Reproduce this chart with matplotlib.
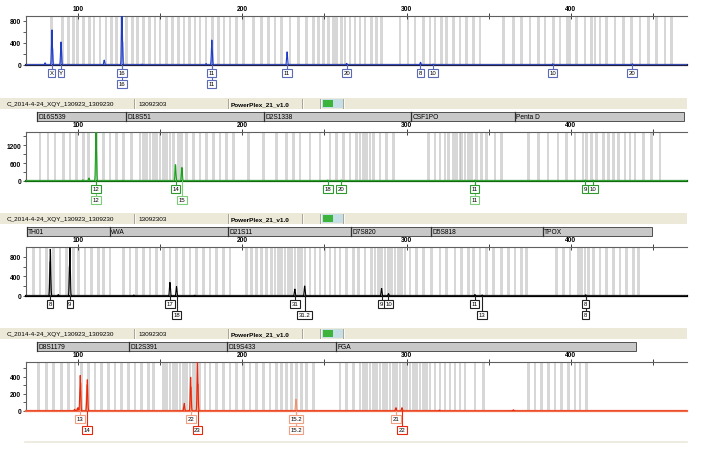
import numpy as np
import matplotlib
matplotlib.use('Agg')
import matplotlib.pyplot as plt
from matplotlib.patches import Rectangle

plt.rcParams['font.family'] = ['Liberation Sans', 'DejaVu Sans']

W, H = 703, 452

# shared size axis (bp)
x_lo, x_hi = 68.4, 470.7
size_major = [100, 200, 300, 400]
size_minor = [150, 250, 350, 450]

# ---------------- blue dye ----------------
blue_pos = [80.0, 84.2, 89.7, 116.0, 126.8, 139.0, 178.0, 181.5, 227.3, 263.5, 308.5, 316.2, 388.9, 437.4]
blue_hgt = [40, 640, 420, 90, 1000, 15, 25, 455, 240, 30, 50, 15, 20, 20]
blue_sh_pos = [84.6, 90.0, 127.2, 181.8]
blue_sh_hgt = [300, 290, 420, 290]
blue_row1 = [(84.2, 'X'), (89.7, 'Y'), (126.8, '16'), (181.5, '11'), (227.3, '11'),
             (263.5, '20'), (308.5, '8'), (316.2, '10'), (388.9, '10'), (437.4, '20')]
blue_row2 = [(126.8, '16'), (181.5, '11')]
blue_bins = [84.0, 90.7, 94.1, 97.2, 99.6, 103.3, 106.9, 109.7, 113.4, 117.0, 120.5, 123.5, 126.6,
             129.6, 133.3, 136.1, 139.8, 143.4, 146.9, 149.9, 154.0, 157.6, 161.1, 164.5, 167.8,
             171.2, 174.3, 177.9, 182.0, 185.4, 188.9, 192.5, 196.6, 200.6, 206.7, 211.8, 215.8,
             219.9, 224.0, 229.0, 234.1, 239.2, 243.2, 246.3, 249.3, 252.4, 255.4, 257.4, 260.5,
             262.5, 265.5, 268.6, 271.6, 274.7, 278.7, 281.8, 284.8, 296.0, 301.0, 305.1, 310.2,
             314.2, 317.3, 321.3, 324.4, 328.4, 332.5, 336.6, 340.6, 344.7, 358.9, 365.0, 370.0,
             375.1, 380.2, 384.2, 389.3, 393.4, 397.8, 399.4, 403.5, 408.6, 412.6, 414.7, 417.7,
             421.8, 426.8, 431.9, 437.0, 442.1, 447.1, 452.2, 457.3, 461.3]

# ---------------- green dye ----------------
green_pos = [103.0, 106.7, 111.0, 127.4, 159.4, 163.3, 252.0, 260.2, 341.6, 408.6, 413.7]
green_hgt = [40, 100, 1800, 20, 550, 455, 30, 30, 25, 25, 25]
green_sh_pos = [111.3, 159.0, 163.0]
green_sh_hgt = [1000, 550, 460]
green_row1 = [(111.0, '12'), (159.4, '14'), (252.0, '18'), (260.2, '20'), (341.6, '11'),
              (408.6, '9'), (413.7, '10')]
green_row2 = [(111.0, '12'), (163.3, '15'), (341.6, '11')]
green_bins = [76.9, 81.9, 86.0, 91.1, 95.1, 99.2, 103.3, 106.3, 111.4, 115.4, 119.5, 123.5, 127.6,
              132.7, 137.7, 139.8, 141.8, 143.8, 145.9, 147.9, 149.9, 152.0, 154.0, 156.0, 158.0,
              161.1, 163.1, 166.1, 170.2, 174.3, 178.3, 182.4, 186.4, 190.5, 194.5, 203.7, 212.8,
              220.9, 227.0, 231.1, 235.1, 241.2, 247.3, 253.4, 257.4, 261.5, 265.5, 269.6, 271.7,
              273.7, 275.7, 277.8, 279.8, 283.8, 287.9, 292.0, 313.2, 317.3, 320.3, 323.4, 325.4,
              328.4, 330.5, 332.5, 333.5, 335.5, 337.6, 339.6, 342.7, 345.7, 348.7, 353.8, 357.9,
              374.1, 380.2, 386.2, 392.3, 397.4, 402.5, 407.5, 409.6, 412.6, 415.7, 419.7, 422.8,
              425.8, 428.9, 432.9, 436.0, 439.0, 444.1, 449.2, 454.2]
green_markers = ['D16S539', 'D18S51', 'D2S1338', 'CSF1PO', 'Penta D']
green_edges = [75.0, 129.2, 213.2, 302.7, 366.0, 468.8]

# ---------------- black (yellow) dye ----------------
black_pos = [83.2, 88.0, 95.1, 134.0, 156.0, 160.0, 171.0, 232.0, 238.0, 284.8, 289.0, 341.6, 346.0, 409.0]
black_hgt = [960, 30, 990, 20, 280, 195, 15, 145, 205, 160, 50, 30, 20, 25]
black_sh_pos = [82.9, 94.8]
black_sh_hgt = [700, 600]
black_row1 = [(83.2, '8'), (95.1, '9'), (156.0, '17'), (232.0, '31'), (284.8, '9'), (289.0, '10'),
              (341.6, '11'), (409.0, '8')]
black_row2 = [(160.0, '18'), (238.0, '31.2'), (346.0, '13'), (409.0, '8')]
black_bins = [72.8, 76.9, 80.9, 85.0, 89.1, 93.1, 97.2, 100.2, 104.3, 108.3, 112.4, 115.4, 119.5,
              127.6, 131.7, 135.7, 139.8, 143.8, 147.9, 151.9, 156.0, 160.1, 164.1, 168.2, 172.2,
              176.3, 180.3, 184.4, 188.5, 192.5, 202.7, 205.7, 208.8, 211.8, 214.8, 217.9, 219.9,
              221.9, 224.0, 226.0, 228.0, 230.1, 232.1, 234.1, 236.1, 238.2, 241.2, 244.3, 247.3,
              250.3, 253.4, 256.4, 259.5, 263.5, 267.6, 270.6, 274.7, 278.8, 280.8, 282.8, 284.9,
              286.9, 288.9, 291.0, 293.0, 295.0, 297.0, 299.1, 302.1, 306.2, 310.2, 315.3, 320.4,
              324.4, 329.5, 333.6, 337.6, 340.7, 344.7, 348.8, 352.8, 357.9, 362.0, 366.0, 370.1,
              373.1, 391.4, 395.4, 399.5, 404.6, 406.6, 408.6, 410.6, 413.7, 417.7, 421.8, 425.9,
              429.9, 434.0, 438.0, 441.1]
black_markers = ['TH01', 'vWA', 'D21S11', 'D7S820', 'D5S818', 'TPOX']
black_edges = [69.0, 119.5, 191.3, 266.2, 314.9, 383.0, 449.4]

# ---------------- red dye ----------------
red_pos = [98.0, 100.0, 101.4, 105.7, 164.7, 168.6, 172.8, 293.5, 297.2, 320.0, 365.0]
red_hgt = [20, 40, 420, 370, 90, 400, 600, 40, 40, 10, 15]
red_sh_pos = [99.5, 101.7, 105.4, 164.4, 168.9, 173.1, 232.7]
red_sh_hgt = [30, 330, 310, 60, 280, 320, 140]
red_row1 = [(101.4, '13'), (168.6, '22'), (232.7, '15.2'), (293.5, '21')]
red_row2 = [(105.7, '14'), (172.8, '23'), (232.7, '15.2'), (297.2, '22')]
red_row2_called = [True, True, False, True]
red_bins = [75.9, 80.9, 85.0, 90.1, 94.1, 98.2, 102.2, 106.3, 110.4, 114.4, 118.5, 122.5, 126.6,
            130.6, 134.7, 138.8, 142.8, 145.9, 151.9, 154.0, 156.0, 158.0, 160.1, 162.1, 164.1,
            166.1, 168.2, 170.2, 172.2, 174.3, 177.3, 180.3, 184.4, 188.5, 192.5, 196.6, 200.6,
            204.7, 208.7, 212.8, 216.9, 220.9, 224.0, 227.0, 230.1, 233.1, 236.1, 239.2, 243.2,
            259.5, 263.5, 267.6, 271.6, 273.7, 275.7, 277.8, 279.8, 281.8, 283.8, 285.9, 287.9,
            289.9, 292.0, 294.0, 296.0, 298.1, 300.1, 302.1, 304.1, 306.2, 308.2, 310.2, 312.3,
            314.3, 317.3, 320.4, 323.4, 326.5, 329.5, 332.5, 335.6, 341.7, 346.7, 374.1, 378.2,
            382.2, 386.3, 390.4, 394.4, 398.5, 402.5, 405.6, 409.6]
red_markers = ['D8S1179', 'D12S391', 'D19S433', 'FGA']
red_edges = [75.0, 131.0, 190.7, 257.0, 439.6]

header_cells = ['C_2014-4-24_XQY_130923_1309230', '13092303', 'PowerPlex_21_v1.0']

fig = plt.figure(figsize=(W / 100, H / 100), dpi=100)
fig.patch.set_facecolor('white')


def px_rect(x, y, w, h, **kw):
    fig.add_artist(Rectangle((x / W, 1 - (y + h) / H), w / W, h / H,
                             transform=fig.transFigure, **kw))


def px_line(x0, x1, y0, y1, **kw):
    fig.add_artist(plt.Line2D([x0 / W, x1 / W], [1 - y0 / H, 1 - y1 / H],
                              transform=fig.transFigure, **kw))


def draw_header(y):
    h = 11
    px_rect(0, y, 687, h, fc='#ece9d8', ec='none', zorder=1)
    fig.text(7 / W, 1 - (y + h / 2) / H, header_cells[0], fontsize=4.6, va='center', zorder=2)
    px_rect(135, y, 552, h, fc='#ece9d8', ec='none', zorder=3)
    fig.text(138 / W, 1 - (y + h / 2) / H, header_cells[1], fontsize=4.6, va='center', zorder=4)
    fig.text(231 / W, 1 - (y + h / 2) / H, header_cells[2], fontsize=4.6, va='center',
             fontweight='bold', zorder=4)
    for xd in [134, 228, 302, 320, 343]:
        px_line(xd, xd, y + 1, y + h - 1, color='#a8a496', lw=0.7, zorder=5)
        px_line(xd + 1, xd + 1, y + 1, y + h - 1, color='white', lw=0.5, zorder=5)
    px_rect(321, y + 1, 22, h - 2, fc='#c6dfe6', ec='none', zorder=4)
    px_rect(323, y + 2, 10, h - 4, fc='#3cb43c', ec='none', zorder=5)


def draw_trace(ax, xs, pos, hgt, col, lw):
    ys = np.zeros_like(xs)
    for p, h in zip(pos, hgt):
        ys += h * np.exp(-(xs - p) ** 2 / (2 * 0.28 ** 2))
    ax.plot(xs, ys, color=col, lw=lw, zorder=3, solid_joinstyle='miter')


def draw_panel(top, ymax, yt, ymin_t, bins, pos, hgt, col, sh_pos, sh_hgt, sh_col,
               row1, row2, box1, box2, base_col, markers=None, edges=None):
    ax = fig.add_axes([26 / W, 1 - (top + 49) / H, 661 / W, 49 / H])
    ax.set_xlim(x_lo, x_hi)
    ax.set_ylim(0, ymax)
    for b in bins:
        ax.axvspan(b - 0.8, b + 0.8, color='#b0b0b0', alpha=0.5, lw=0, zorder=1)
    xs = np.arange(x_lo, x_hi, 0.04)
    draw_trace(ax, xs, sh_pos, sh_hgt, sh_col, 0.8)
    draw_trace(ax, xs, pos, hgt, col, 0.8)

    ax.spines['right'].set_visible(False)
    ax.spines['top'].set_color('#606060')
    ax.spines['top'].set_linewidth(0.8)
    ax.spines['left'].set_color('#606060')
    ax.spines['left'].set_linewidth(0.8)
    ax.spines['bottom'].set_color(base_col)
    ax.spines['bottom'].set_linewidth(1.6)

    ax.xaxis.tick_top()
    ax.set_xticks(size_major)
    ax.set_xticks(size_minor, minor=True)
    ax.tick_params(axis='x', which='both', direction='inout', length=4, width=0.6,
                   color='#202020', labelsize=4.8, pad=1)
    ax.set_yticks(yt)
    ax.set_yticks(ymin_t, minor=True)
    ax.tick_params(axis='y', which='both', direction='out', length=2.5, width=0.6,
                   color='#404040', labelsize=4.8, pad=1)
    for lbl in ax.get_xticklabels() + ax.get_yticklabels():
        lbl.set_fontweight('bold')

    tr = ax.get_xaxis_transform()
    for i, (x, t) in enumerate(row2):
        ec = box2[i] if isinstance(box2, list) else box2
        ax.plot([x, x], [0, -14.5 / 49], color=ec, lw=0.8, transform=tr, clip_on=False, zorder=4)
        ax.text(x, -18.8 / 49, t, transform=tr, ha='center', va='center', fontsize=4.3,
                clip_on=False, zorder=6,
                bbox=dict(boxstyle='square,pad=0.25', fc='white', ec=ec, lw=0.8))
    for x, t in row1:
        ax.plot([x, x], [0, -3.5 / 49], color=box1, lw=0.8, transform=tr, clip_on=False, zorder=4)
        ax.text(x, -7.6 / 49, t, transform=tr, ha='center', va='center', fontsize=4.3,
                clip_on=False, zorder=7,
                bbox=dict(boxstyle='square,pad=0.25', fc='white', ec=box1, lw=0.8))

    if markers:
        y0, hh = 1 + 11 / 49, 9 / 49
        ax.add_patch(Rectangle((edges[0], y0), edges[-1] - edges[0], hh, transform=tr,
                               fc='#c8c8c8', ec='#505050', lw=0.7, clip_on=False, zorder=5))
        for name, a in zip(markers, edges[:-1]):
            ax.plot([a, a], [y0, y0 + hh], color='#303030', lw=0.9, transform=tr,
                    clip_on=False, zorder=6)
            ax.text(a + 0.8, y0 + hh / 2, name, transform=tr, fontsize=4.8, va='center',
                    ha='left', clip_on=False, zorder=7)
    return ax


# panel 1 (blue)
draw_panel(17, 890, [0, 400, 800], [200, 600], blue_bins, blue_pos, blue_hgt, '#1e3cc8',
           blue_sh_pos, blue_sh_hgt, '#8c9ae6', blue_row1, blue_row2, '#5a6ab8', '#5a6ab8',
           '#202040')

# panel 2 (green)
draw_header(99)
draw_panel(133, 1646, [0, 600, 1200], [300, 900, 1500], green_bins, green_pos, green_hgt,
           '#1ea01e', green_sh_pos, green_sh_hgt, '#8fd88f', green_row1, green_row2,
           '#2e9a2e', '#7ccc7c', '#106a10', green_markers, green_edges)

# panel 3 (black)
draw_header(214)
draw_panel(248, 1000, [0, 400, 800], [200, 600], black_bins, black_pos, black_hgt, '#000000',
           black_sh_pos, black_sh_hgt, '#909090', black_row1, black_row2, '#202020', '#202020',
           '#000000', black_markers, black_edges)

# panel 4 (red)
draw_header(329)
row2_cols = ['#e8280e' if c else '#f0a080' for c in red_row2_called]
draw_panel(363, 576, [0, 200, 400], [100, 300, 500], red_bins, red_pos, red_hgt, '#e8280e',
           red_sh_pos, red_sh_hgt, '#f4906a', red_row1, red_row2, '#f0a080', row2_cols,
           '#f06a48', red_markers, red_edges)

px_line(25, 687, 443, 443, color='#ebe7da', lw=1.2)

fig.savefig('out.png', dpi=100)
